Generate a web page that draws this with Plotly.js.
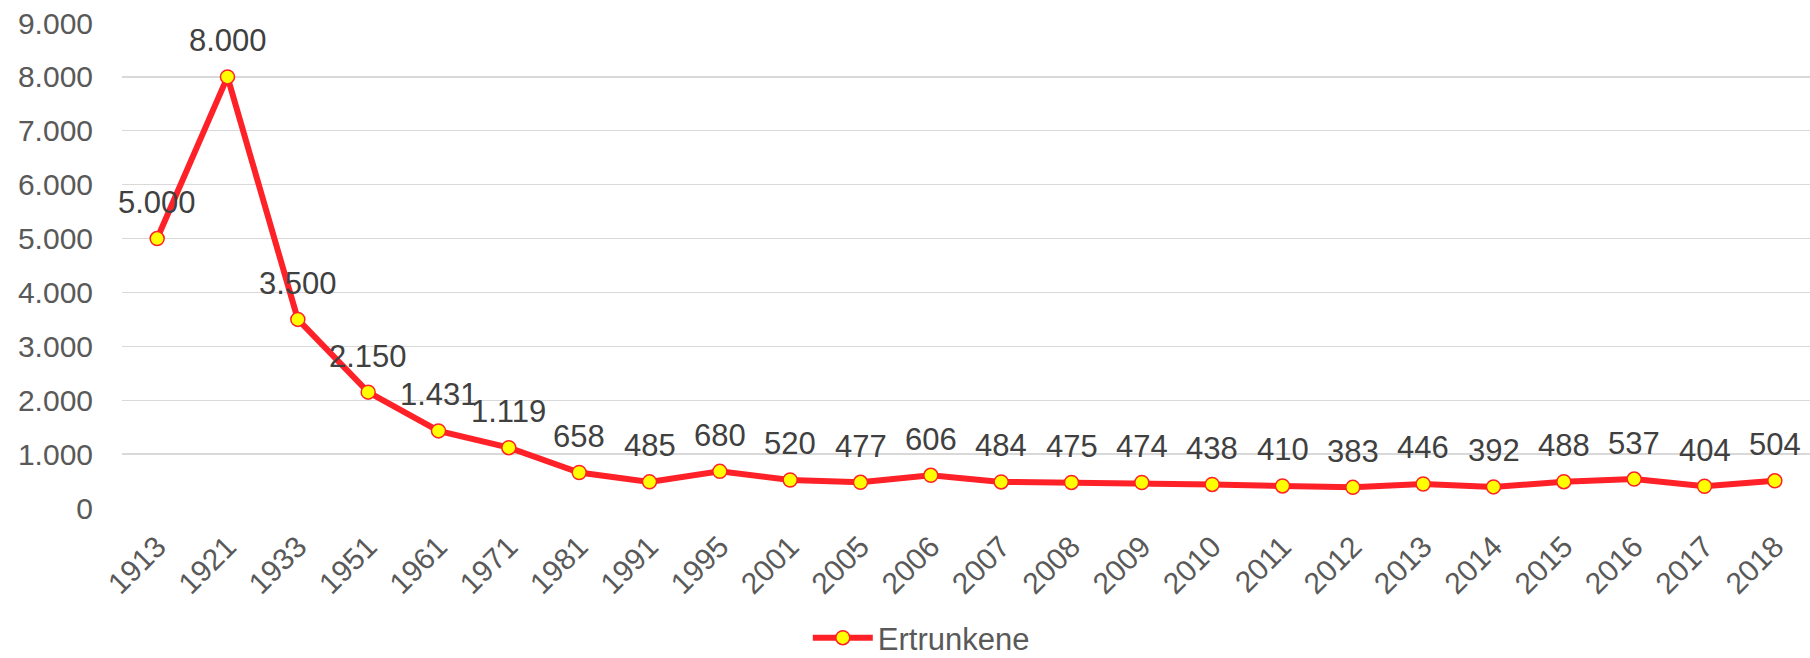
<!DOCTYPE html>
<html>
<head>
<meta charset="utf-8">
<script src="https://cdn.plot.ly/plotly-3.0.1.min.js"></script>
<style>
html,body{margin:0;padding:0;background:#fff;}
#chart{width:1810px;height:658px;}
</style>
</head>
<body>
<div id="chart"></div>
<script>
const years = ['1913','1921','1933','1951','1961','1971','1981','1991','1995','2001','2005','2006','2007','2008','2009','2010','2011','2012','2013','2014','2015','2016','2017','2018'];
const drowned = [5000,8000,3500,2150,1431,1119,658,485,680,520,477,606,484,475,474,438,410,383,446,392,488,537,404,504];
const yTicks = [0,1000,2000,3000,4000,5000,6000,7000,8000,9000];
const yTickLabels = ['0','1.000','2.000','3.000','4.000','5.000','6.000','7.000','8.000','9.000'];
const seriesName = 'Ertrunkene';

function fmt(v){ return v.toString().replace(/\B(?=(\d{3})+(?!\d))/g,'.'); }

const trace = {
  x: years, y: drowned, type:'scatter', mode:'lines+markers', name: seriesName,
  line:{color:'#FF2128', width:6},
  marker:{color:'#FFFF00', size:14, line:{color:'#FF2128', width:1.5}},
  hoverinfo:'none'
};

const annotations = years.map((yr,i)=>({
  x: i, y: drowned[i], xref:'x', yref:'y', text: fmt(drowned[i]), showarrow:false,
  yshift: 36, font:{family:'Liberation Sans, Arial, sans-serif', size:31, color:'#404040'}
}));

const layout = {
  width:1810, height:658,
  margin:{l:121.5, r:0, t:23.3, b:150.3},
  paper_bgcolor:'#fff', plot_bgcolor:'#fff',
  font:{family:'Liberation Sans, Arial, sans-serif', color:'#595959'},
  showlegend:true,
  legend:{orientation:'h', x:0.509, xref:'container', xanchor:'center', y:1-638/658, yref:'container', yanchor:'middle',
    font:{size:31, color:'#595959'}, itemwidth:60},
  xaxis:{type:'category', range:[-0.5,23.5], showgrid:false, zeroline:false, showline:false,
    tickangle:-45, tickfont:{size:30, color:'#595959'}, ticks:'', ticklabelstandoff:14},
  yaxis:{range:[0,9000], tickvals:yTicks, ticktext:yTickLabels, showgrid:true, gridcolor:'#D9D9D9', gridwidth:1.3,
    zeroline:false, showline:false, tickfont:{size:30, color:'#595959'}, ticks:'', ticklabelstandoff:28},
  annotations: annotations
};

Plotly.newPlot('chart',[trace],layout,{staticPlot:true, displayModeBar:false});
</script>
</body>
</html>
